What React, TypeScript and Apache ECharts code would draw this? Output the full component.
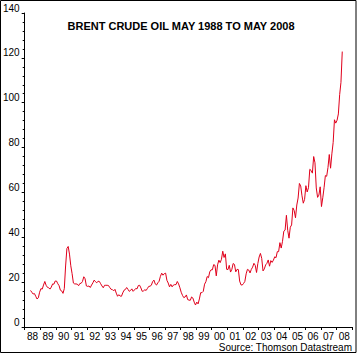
import React, { useEffect, useRef } from "react";
import * as echarts from "echarts";

// Year tick labels (1988 .. 2008)
const yearLabels: string[] = [
  "88", "89", "90", "91", "92", "93", "94", "95", "96", "97",
  "98", "99", "00", "01", "02", "03", "04", "05", "06", "07", "08",
];

// Brent crude, US$ per barrel, monthly, May 1988 .. May 2008
const startYear = 1988;
const startMonth = 5;
const brentMonthly: number[] = [
  // 1988 May-Dec
  16.3, 15.5, 14.7, 14.9, 13.7, 12.5, 13.0, 15.5,
  // 1989
  17.1, 16.9, 18.7, 20.3, 18.6, 17.7, 17.5, 16.9, 17.8, 19.2, 19.1, 20.5,
  // 1990
  20.5, 19.3, 18.4, 16.4, 16.1, 15.0, 17.1, 27.2, 35.0, 35.9, 32.5, 27.3,
  // 1991
  23.8, 19.6, 19.2, 19.2, 19.1, 18.4, 19.4, 19.5, 20.3, 22.4, 21.5, 18.3,
  // 1992
  18.1, 18.3, 17.6, 18.7, 19.7, 20.9, 20.2, 19.7, 20.4, 20.3, 19.3, 18.3,
  // 1993
  17.5, 18.6, 18.6, 18.6, 18.5, 17.6, 16.8, 16.7, 16.1, 16.8, 15.1, 13.7,
  // 1994
  14.4, 13.8, 13.7, 15.2, 16.4, 16.7, 17.6, 16.8, 15.9, 16.3, 17.0, 15.9,
  // 1995
  16.5, 17.2, 17.0, 18.5, 18.6, 17.4, 15.9, 16.1, 16.6, 16.3, 17.2, 18.1,
  // 1996
  18.2, 18.6, 20.2, 20.9, 19.2, 18.7, 19.7, 20.4, 22.6, 24.0, 23.1, 23.8,
  // 1997
  24.0, 20.8, 19.6, 17.9, 19.0, 17.9, 18.7, 18.9, 18.9, 20.3, 19.2, 17.5,
  // 1998
  15.5, 14.1, 13.1, 13.4, 14.3, 12.2, 12.0, 11.9, 13.4, 12.9, 11.1, 9.8,
  // 1999
  11.1, 10.3, 12.5, 15.3, 15.3, 15.9, 19.1, 20.2, 22.5, 22.0, 24.6, 25.5,
  // 2000
  25.5, 27.8, 27.5, 22.8, 27.7, 29.8, 28.7, 30.2, 33.8, 31.0, 32.6, 25.7,
  // 2001
  25.6, 27.5, 24.5, 25.7, 28.3, 27.9, 24.6, 25.7, 25.6, 20.5, 18.8, 18.7,
  // 2002
  19.4, 20.3, 23.7, 25.7, 25.4, 24.1, 25.7, 26.7, 28.4, 27.5, 24.3, 28.3,
  // 2003
  31.2, 32.8, 30.6, 25.0, 25.9, 27.7, 28.4, 29.9, 27.1, 29.6, 28.8, 29.8,
  // 2004
  31.3, 30.9, 33.6, 33.6, 37.6, 35.2, 38.2, 42.7, 43.2, 49.8, 43.1, 39.6,
  // 2005
  44.5, 45.5, 53.1, 51.9, 48.7, 54.4, 57.5, 64.0, 62.9, 58.5, 55.2, 56.9,
  // 2006
  63.0, 60.2, 62.1, 70.3, 69.8, 68.6, 76.0, 73.2, 62.0, 57.8, 58.8, 62.5,
  // 2007
  53.7, 57.6, 62.1, 67.5, 67.2, 71.1, 76.9, 70.8, 77.2, 82.3, 92.4, 90.9,
  // 2008 Jan-May
  92.2, 95.0, 103.6, 109.1, 122.8,
];

const titleText = "BRENT CRUDE OIL MAY 1988 TO MAY 2008";
const sourceText = "Source: Thomson Datastream";

export default function App() {
  const ref = useRef<HTMLDivElement>(null);

  useEffect(() => {
    document.body.style.margin = "0";
    if (!ref.current) return;
    const chart = echarts.init(ref.current, undefined, { renderer: "svg" });

    const points = brentMonthly.map((v, i) => {
      const m = startMonth - 1 + i;
      return [startYear + (m + 0.5) / 12, v];
    });

    const font = "Liberation Sans, Arial, sans-serif";

    chart.setOption({
      animation: false,
      backgroundColor: "#ffffff",
      grid: { left: 22, right: 8, top: 13, bottom: 28, containLabel: false },
      xAxis: [
        {
          type: "category",
          data: yearLabels,
          boundaryGap: true,
          position: "bottom",
          axisLine: { show: true, lineStyle: { color: "#000", width: 1 } },
          axisTick: { show: true, length: 3, interval: 0, lineStyle: { color: "#000" } },
          axisLabel: { interval: 0, fontSize: 10, color: "#000", margin: 4, fontFamily: font },
          splitLine: { show: false },
        },
        {
          type: "value",
          min: 1988,
          max: 2009,
          show: false,
        },
      ],
      yAxis: {
        type: "value",
        min: 0,
        max: 140,
        interval: 20,
        axisLine: { show: true, lineStyle: { color: "#000", width: 1 } },
        axisTick: { show: true, length: 3, lineStyle: { color: "#000" } },
        minorTick: { show: true, splitNumber: 5, length: 2, lineStyle: { color: "#000" } },
        splitLine: { show: false },
        minorSplitLine: { show: false },
        axisLabel: {
          fontSize: 10,
          color: "#000",
          margin: 5,
          verticalAlign: "bottom",
          fontFamily: font,
        },
      },
      series: [
        {
          type: "line",
          xAxisIndex: 1,
          data: points,
          showSymbol: false,
          symbol: "none",
          lineStyle: { color: "#e0001b", width: 1 },
        },
      ],
      graphic: [
        {
          type: "rect",
          shape: { x: 0.5, y: 0.5, width: 355.5, height: 352 },
          style: { fill: "none", stroke: "#000", lineWidth: 1 },
          silent: true,
        },
        {
          type: "text",
          x: 181,
          y: 26,
          style: {
            text: titleText,
            font: "bold 11px " + font,
            fill: "#000",
            textAlign: "center",
            textVerticalAlign: "middle",
          },
        },
        {
          type: "text",
          x: 352,
          y: 347,
          style: {
            text: sourceText,
            font: "10px " + font,
            fill: "#000",
            textAlign: "right",
            textVerticalAlign: "middle",
          },
        },
      ],
    });

    return () => chart.dispose();
  }, []);

  return <div ref={ref} style={{ width: 360, height: 355 }} />;
}
